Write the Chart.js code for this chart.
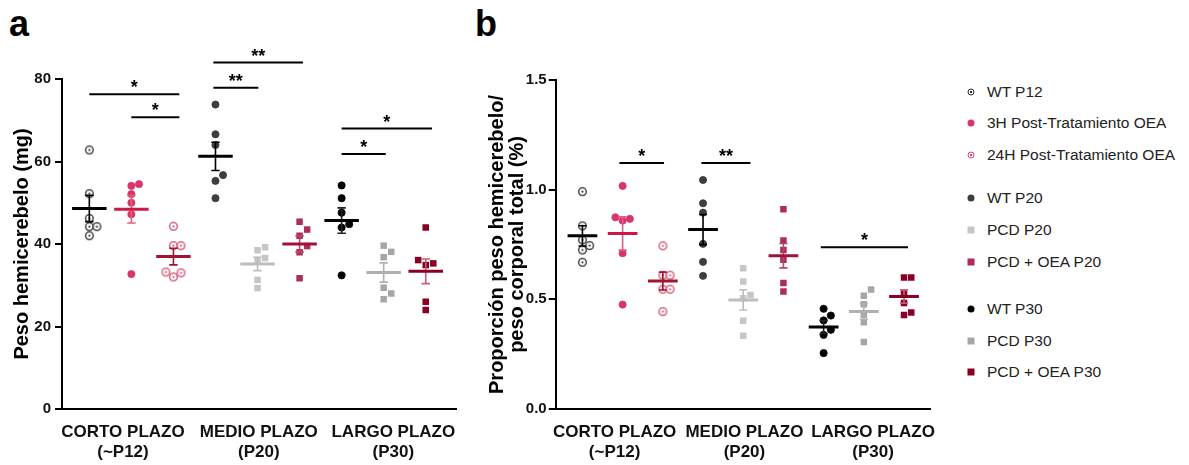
<!DOCTYPE html>
<html>
<head>
<meta charset="utf-8">
<script src="https://cdn.jsdelivr.net/npm/chart.js@4"></script>
<style>
  html, body { margin: 0; padding: 0; background: #fff; }
  #wrap { position: relative; width: 1189px; height: 465px; overflow: hidden; font-family: "Liberation Sans", Arial, sans-serif; }
  canvas { position: absolute; top: 0; }
  .letter { position: absolute; top: 6px; font: bold 36px/1 "Liberation Sans", Arial, sans-serif; color: #000; }
  .item { position: absolute; left: 966px; height: 20px; font-size: 15.5px; line-height: 20px; color: #222; white-space: nowrap; }
  .item span.mk { position: absolute; left: 0; top: 50%; transform: translate(-50%, -50%); }
  .item span.tx { position: absolute; left: 21px; top: 0; }
</style>
</head>
<body>
<div id="wrap">
  <div class="letter" style="left:9px">a</div>
  <div class="letter" style="left:475px">b</div>
  <canvas id="chartA" width="470" height="465" style="left:0;width:470px;height:465px"></canvas>
  <canvas id="chartB" width="480" height="465" style="left:470px;width:480px;height:465px"></canvas>
  <div id="legend"></div>
</div>
<script>
// groups, left to right
const groups = ["WT P12", "3H Post-Tratamiento OEA", "24H Post-Tratamiento OEA",
                "WT P20", "PCD P20", "PCD + OEA P20",
                "WT P30", "PCD P30", "PCD + OEA P30"];
const periodLabels = [["CORTO PLAZO", "(~P12)"], ["MEDIO PLAZO", "(P20)"], ["LARGO PLAZO", "(P30)"]];
const periodPos = [0.8, 4.03, 7.23];

// a - Peso hemicerebelo (mg)
const pesoWtP12   = [62.8, 52.2, 46.2, 44.2, 44.2, 42.0];
const peso3h      = [54.1, 54.5, 52.1, 50.0, 47.2, 32.7];
const peso24h     = [44.3, 39.6, 39.6, 33.2, 32.0, 33.0];
const pesoWtP20   = [73.8, 66.6, 64.0, 56.7, 55.3, 51.1];
const pesoPcdP20  = [38.5, 39.2, 36.1, 36.6, 31.3, 29.3];
const pesoOeaP20  = [45.4, 43.5, 42.0, 39.5, 38.0, 31.7];
const pesoWtP30   = [54.2, 51.1, 47.6, 44.0, 44.8, 32.4];
const pesoPcdP30  = [39.6, 38.1, 36.8, 29.4, 28.0, 26.6];
const pesoOeaP30  = [44.0, 36.1, 35.3, 34.9, 26.0, 24.0];
const ticksA = [0, 20, 40, 60, 80];
// [from, to, y, label]
const sigA = [[0, 2.14, 76.3, "*"], [1.0, 2.14, 70.7, "*"], [2.95, 4.02, 77.9, "**"],
              [2.95, 5.08, 84.0, "**"], [6.0, 7.05, 61.8, "*"], [6.0, 8.15, 68.0, "*"]];

// b - Proporción peso hemicerebelo / peso corporal total (%)
const propWtP12   = [0.991, 0.835, 0.771, 0.745, 0.725, 0.669];
const prop3h      = [1.017, 0.867, 0.874, 0.859, 0.710, 0.476];
const prop24h     = [0.744, 0.610, 0.610, 0.546, 0.546, 0.444];
const propWtP20   = [1.044, 0.938, 0.895, 0.753, 0.671, 0.607];
const propPcdP20  = [0.642, 0.581, 0.505, 0.520, 0.402, 0.334];
const propOeaP20  = [0.911, 0.768, 0.725, 0.680, 0.574, 0.536];
const propWtP30   = [0.457, 0.426, 0.404, 0.361, 0.338, 0.255];
const propPcdP30  = [0.545, 0.516, 0.478, 0.430, 0.395, 0.305];
const propOeaP30  = [0.599, 0.599, 0.525, 0.483, 0.440, 0.429];
const ticksB = [0, 0.5, 1.0, 1.5];
const sigB = [[0.92, 2.03, 1.122, "*"], [2.96, 4.18, 1.122, "**"], [5.93, 8.1, 0.738, "*"]];

// look of each group
const markers   = ["ring", "circle", "ring", "circle", "rect", "rect", "circle", "rect", "rect"];
const colors    = ["#2b2b2b", "#d8356a", "#d04a6c", "#3d3d3d", "#c6c6c6", "#ad2e55", "#000000", "#a6a6a6", "#8a0024"];
const meanColors = ["#000000", "#cc1845", "#a3142f", "#000000", "#bdbdbd", "#9e1238", "#000000", "#b0b0b0", "#8a0024"];
const errColors = ["#000000", "#e06080", "#a3142f", "#000000", "#bdbdbd", "#b04a6a", "#222222", "#b0b0b0", "#c0607a"];

function meanSem(v) {
  const m = v.reduce((a, b) => a + b, 0) / v.length;
  const sd = Math.sqrt(v.reduce((a, b) => a + (b - m) ** 2, 0) / (v.length - 1));
  return [m, sd / Math.sqrt(v.length)];
}

// simple greedy beeswarm, in data units
function swarm(values, center, gapY, stepX) {
  const placed = [];
  const idx = values.map((v, i) => i).sort((a, b) => values[a] - values[b]);
  idx.forEach(i => {
    const v = values[i];
    for (let k = 0; k < 20; k++) {
      const off = k === 0 ? 0 : (k % 2 ? 1 : -1) * Math.ceil(k / 2) * stepX;
      const x = center + off;
      const hit = placed.some(p => ((p.x - x) / stepX) ** 2 + ((p.y - v) / gapY) ** 2 < 0.95);
      if (!hit) { placed.push({ x: x, y: v }); break; }
    }
  });
  return placed;
}

function ringImage(color, r) {
  const c = document.createElement("canvas");
  const s = Math.ceil(r * 2 + 3);
  c.width = c.height = s;
  const g = c.getContext("2d");
  g.fillStyle = "#fff";
  g.beginPath(); g.arc(s / 2, s / 2, r, 0, Math.PI * 2); g.fill();
  g.strokeStyle = color; g.lineWidth = 1.3;
  g.beginPath(); g.arc(s / 2, s / 2, r, 0, Math.PI * 2); g.stroke();
  g.fillStyle = color;
  g.beginPath(); g.arc(s / 2, s / 2, 1.1, 0, Math.PI * 2); g.fill();
  return c;
}

const sigPlugin = {
  id: "sig",
  afterDraw(chart, args, opts) {
    const ctx = chart.ctx, xs = chart.scales.x, ys = chart.scales.y;
    ctx.save();
    ctx.strokeStyle = "#000"; ctx.fillStyle = "#000"; ctx.lineWidth = 2;
    ctx.font = "bold 18px 'Liberation Sans', Arial, sans-serif";
    ctx.textAlign = "center"; ctx.textBaseline = "alphabetic";
    opts.bars.forEach(([a, b, y, label]) => {
      const x1 = xs.getPixelForValue(a), x2 = xs.getPixelForValue(b), py = ys.getPixelForValue(y);
      ctx.beginPath(); ctx.moveTo(x1, py); ctx.lineTo(x2, py); ctx.stroke();
      ctx.fillText(label, (x1 + x2) / 2, py - 1);
    });
    ctx.restore();
  }
};

function makePanel(id, series, p) {
  const datasets = [];
  series.forEach((vals, g) => {
    const [m, sem] = meanSem(vals);
    const style = markers[g] === "ring" ? ringImage(colors[g], 3.8) : markers[g];
    datasets.push({
      type: "scatter",
      data: swarm(vals, g, p.gapY, 0.18),
      pointStyle: style,
      pointRadius: markers[g] === "rect" ? 4.6 : 3.6,
      pointBackgroundColor: colors[g],
      pointBorderColor: colors[g],
      pointBorderWidth: markers[g] === "rect" ? 0 : 0.8,
      order: 2
    });
    datasets.push({
      type: "line",
      data: [{ x: g - p.meanHalf, y: m }, { x: g + p.meanHalf, y: m }],
      borderColor: meanColors[g], borderWidth: 3, pointRadius: 0, order: 0
    });
    const c = 0.1;
    datasets.push({
      type: "line",
      data: [{ x: g - c, y: m - sem }, { x: g + c, y: m - sem }, { x: g, y: null },
             { x: g, y: m - sem }, { x: g, y: m + sem }, { x: g, y: null },
             { x: g - c, y: m + sem }, { x: g + c, y: m + sem }],
      borderColor: errColors[g], borderWidth: 1.6, pointRadius: 0, spanGaps: false, order: 1
    });
  });

  return new Chart(document.getElementById(id), {
    type: "scatter",
    data: { datasets },
    plugins: [sigPlugin],
    options: {
      responsive: false,
      animation: false,
      layout: { padding: { left: p.padLeft, top: p.padTop, right: p.padRight, bottom: 0 } },
      plugins: { legend: { display: false }, tooltip: { enabled: false }, sig: { bars: p.sig } },
      scales: {
        x: {
          type: "linear", min: p.xMin, max: p.xMax,
          grid: { display: false, drawTicks: false },
          border: { display: true, color: "#000", width: 2 },
          afterBuildTicks: s => { s.ticks = periodPos.map(v => ({ value: v })); },
          afterFit: s => { s.height = 56; },
          ticks: {
            autoSkip: false, maxRotation: 0, padding: 14, color: "#111",
            font: { family: "'Liberation Sans', Arial, sans-serif", size: 17, weight: "bold", lineHeight: 1.13 },
            callback: v => periodLabels[periodPos.indexOf(v)]
          }
        },
        y: {
          min: 0, max: p.yMax,
          afterBuildTicks: s => { s.ticks = p.ticks.map(v => ({ value: v })); },
          afterFit: s => { s.width = p.axisWidth; },
          grid: { display: true, drawOnChartArea: false, drawTicks: true, tickLength: 7, color: "#000", lineWidth: 2 },
          border: { display: true, color: "#000", width: 2 },
          ticks: {
            padding: p.tickPad, color: "#111",
            font: { family: "'Liberation Sans Narrow', 'Arial Narrow', 'Liberation Sans', sans-serif", size: 15, weight: "bold" },
            callback: v => p.fmt(v)
          },
          title: {
            display: true, text: p.title, color: "#000", padding: 0,
            font: { family: "'Liberation Sans', Arial, sans-serif", size: 20, weight: "bold", lineHeight: 1.0 }
          }
        }
      }
    }
  });
}

makePanel("chartA",
  [pesoWtP12, peso3h, peso24h, pesoWtP20, pesoPcdP20, pesoOeaP20, pesoWtP30, pesoPcdP30, pesoOeaP30],
  { xMin: -0.65, xMax: 8.72, yMax: 80, ticks: ticksA, fmt: v => String(v), sig: sigA,
    title: "Peso hemicerebelo (mg)", padLeft: 12, axisWidth: 50, padTop: 79, padRight: 5,
    tickPad: 4, gapY: 1.8, meanHalf: 0.41 });

makePanel("chartB",
  [propWtP12, prop3h, prop24h, propWtP20, propPcdP20, propOeaP20, propWtP30, propPcdP30, propOeaP30],
  { xMin: -0.665, xMax: 8.66, yMax: 1.5, ticks: ticksB, fmt: v => v.toFixed(1), sig: sigB,
    title: ["Proporción peso hemicerebelo/", "peso corporal total (%)"], padLeft: 17, axisWidth: 68.7,
    padTop: 80, padRight: 7, tickPad: 2, gapY: 0.034, meanHalf: 0.37 });

// legend (html)
const legendTops = [92, 123, 155, 198, 230, 262, 309, 341, 372];
const legend = document.getElementById("legend");
groups.forEach((name, g) => {
  const it = document.createElement("div");
  it.className = "item";
  it.style.left = "971px";
  it.style.top = (legendTops[g] - 10) + "px";
  const mk = document.createElement("span");
  mk.className = "mk";
  if (markers[g] === "rect") {
    mk.style.cssText += "width:7px;height:7px;background:" + colors[g] + ";";
  } else if (markers[g] === "circle") {
    mk.style.cssText += "width:7px;height:7px;border-radius:50%;background:" + colors[g] + ";";
  } else {
    mk.style.cssText += "width:5px;height:5px;border-radius:50%;border:1.2px solid " + colors[g] +
      ";background:radial-gradient(circle," + colors[g] + " 0 1px,#fff 1.4px);";
  }
  const tx = document.createElement("span");
  tx.className = "tx";
  tx.style.left = "16px";
  tx.textContent = name;
  it.appendChild(mk); it.appendChild(tx);
  legend.appendChild(it);
});
</script>
</body>
</html>
